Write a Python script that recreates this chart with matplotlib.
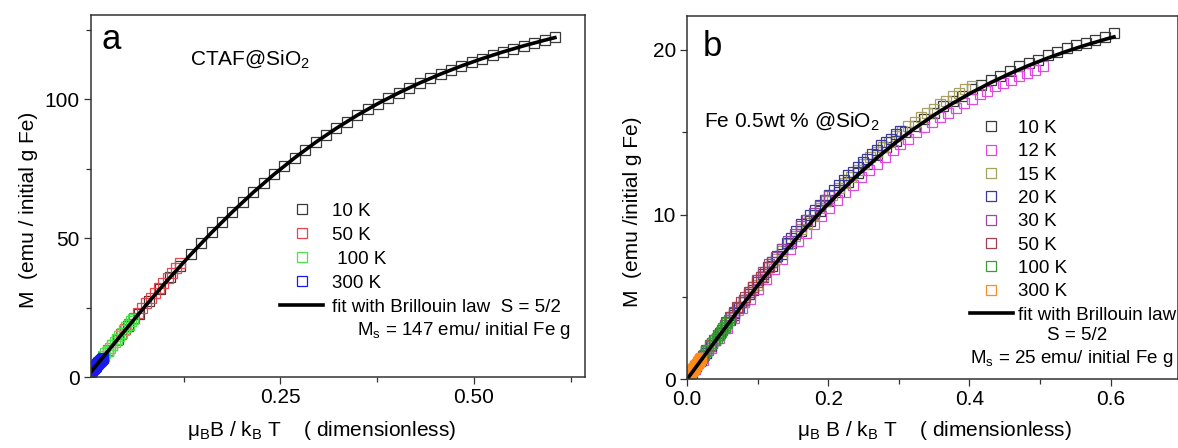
import matplotlib.pyplot as plt

plt.rcParams['font.family'] = ['Liberation Sans', 'DejaVu Sans']
plt.rcParams['mathtext.fontset'] = 'custom'
plt.rcParams['mathtext.rm'] = 'Liberation Sans'
plt.rcParams['mathtext.it'] = 'Liberation Sans:italic'

### DATA ###

# panel a : CTAF@SiO2
x10_a = [0, 0.0134, 0.0269, 0.0403, 0.0538, 0.0672, 0.0806, 0.0941, 0.1075, 0.121,
         0.1344, 0.1478, 0.1613, 0.1747, 0.1882, 0.2016, 0.215, 0.2285, 0.2419, 0.2554,
         0.2688, 0.2822, 0.2957, 0.3091, 0.3226, 0.336, 0.3494, 0.3629, 0.3763, 0.3898,
         0.4032, 0.4166, 0.4301, 0.4435, 0.457, 0.4704, 0.4838, 0.4973, 0.5107, 0.5242,
         0.5376, 0.551, 0.5645, 0.5779, 0.5914, 0.6048]
m10_a = [0.0, 4.6, 9.2, 13.8, 18.3, 22.8, 27.2, 31.6, 35.9, 40.1,
         44.2, 48.2, 52.1, 55.8, 59.5, 63.1, 66.5, 69.8, 73.0, 76.1,
         79.0, 81.8, 84.5, 87.1, 89.6, 92.0, 94.3, 96.5, 98.5, 100.5,
         102.4, 104.2, 105.9, 107.6, 109.1, 110.6, 112.0, 113.4, 114.7, 115.9,
         117.1, 118.2, 119.3, 120.3, 121.3, 122.3]
x50_a = [0.0055, 0.011, 0.0165, 0.022, 0.0275, 0.033, 0.0385, 0.044, 0.0495, 0.055, 0.0605,
         0.066, 0.0715, 0.077, 0.0825, 0.088, 0.0935, 0.099, 0.1045, 0.11, 0.1155, 0.121]
m50_a = [1.9, 3.9, 5.8, 7.7, 9.6, 11.6, 13.5, 15.4, 17.3, 19.2, 21.1,
         22.9, 24.8, 26.6, 28.5, 30.3, 32.1, 33.9, 35.7, 37.5, 39.2, 41.0]
x100_a = [0.003, 0.006, 0.009, 0.012, 0.015, 0.018, 0.021, 0.024, 0.027, 0.03,
          0.033, 0.036, 0.039, 0.042, 0.045, 0.048, 0.051, 0.054, 0.057, 0.06]
m100_a = [1.1, 2.1, 3.2, 4.2, 5.3, 6.3, 7.4, 8.5, 9.5, 10.6,
          11.6, 12.7, 13.7, 14.8, 15.8, 16.8, 17.9, 18.9, 20.0, 21.0]
x300_a = [0.0012, 0.0024, 0.0036, 0.0048, 0.006, 0.0072, 0.0084, 0.0096, 0.0108,
          0.012, 0.0132, 0.0144, 0.0156, 0.0168, 0.018, 0.0192, 0.0204]
m300_a = [0.41, 0.82, 1.23, 1.65, 2.06, 2.47, 2.88, 3.29, 3.7,
          4.12, 4.53, 4.94, 5.35, 5.76, 6.17, 6.59, 7.0]

# Brillouin fit S = 5/2 (Ms = 147 in a, Ms = 25 in b)
fit_x = [0, 0.0269, 0.0538, 0.0806, 0.1075, 0.1344, 0.1613, 0.1882, 0.215, 0.2419,
         0.2688, 0.2957, 0.3226, 0.3494, 0.3763, 0.4032, 0.4301, 0.457, 0.4838, 0.5107,
         0.5376, 0.5645, 0.5914, 0.6048]
fit_a = [0, 9.2, 18.31, 27.23, 35.87, 44.16, 52.06, 59.51, 66.49, 72.99,
         79.0, 84.54, 89.62, 94.28, 98.52, 102.39, 105.91, 109.12, 112.03, 114.68,
         117.1, 119.3, 121.31, 122.25]
fit_b = [0, 1.565, 3.114, 4.631, 6.1, 7.51, 8.854, 10.121, 11.308, 12.413,
         13.436, 14.378, 15.242, 16.034, 16.755, 17.413, 18.012, 18.558, 19.053, 19.504,
         19.915, 20.289, 20.631, 20.791]

# panel b : Fe 0.5wt % @SiO2
x10_b = x10_a
m10_b = [0.0, 0.8, 1.6, 2.4, 3.1, 3.9, 4.7, 5.4, 6.2, 6.9,
         7.6, 8.3, 9.0, 9.6, 10.2, 10.8, 11.4, 12.0, 12.5, 13.1,
         13.6, 14.1, 14.5, 15.0, 15.4, 15.8, 16.2, 16.6, 16.9, 17.2,
         17.6, 17.9, 18.2, 18.4, 18.7, 19.0, 19.2, 19.4, 19.7, 19.9,
         20.1, 20.3, 20.4, 20.6, 20.8, 21.0]
x12_b = [0, 0.0112, 0.0224, 0.0336, 0.0448, 0.056, 0.0672, 0.0784, 0.0896, 0.1008,
         0.112, 0.1232, 0.1344, 0.1456, 0.1568, 0.168, 0.1792, 0.1904, 0.2016, 0.2128,
         0.224, 0.2352, 0.2464, 0.2576, 0.2688, 0.28, 0.2912, 0.3024, 0.3136, 0.3248,
         0.336, 0.3472, 0.3584, 0.3696, 0.3808, 0.392, 0.4032, 0.4144, 0.4256, 0.4368,
         0.448, 0.4592, 0.4704, 0.4816, 0.4928, 0.504]
m12_b = [0.0, 0.6, 1.2, 1.9, 2.5, 3.1, 3.7, 4.3, 4.9, 5.5,
         6.1, 6.7, 7.3, 7.9, 8.4, 8.9, 9.4, 9.9, 10.4, 10.9,
         11.4, 11.8, 12.3, 12.7, 13.1, 13.5, 13.9, 14.3, 14.6, 15.0,
         15.3, 15.6, 15.9, 16.2, 16.5, 16.8, 17.0, 17.3, 17.5, 17.8,
         18.0, 18.2, 18.4, 18.6, 18.8, 19.0]
x15_b = [0, 0.009, 0.0179, 0.0269, 0.0358, 0.0448, 0.0538, 0.0627, 0.0717, 0.0806,
         0.0896, 0.0986, 0.1075, 0.1165, 0.1254, 0.1344, 0.1434, 0.1523, 0.1613, 0.1702,
         0.1792, 0.1882, 0.1971, 0.2061, 0.215, 0.224, 0.233, 0.2419, 0.2509, 0.2598,
         0.2688, 0.2778, 0.2867, 0.2957, 0.3046, 0.3136, 0.3226, 0.3315, 0.3405, 0.3494,
         0.3584, 0.3674, 0.3763, 0.3853, 0.3942, 0.4032]
m15_b = [0.0, 0.6, 1.1, 1.7, 2.2, 2.7, 3.2, 3.7, 4.2, 4.7,
         5.2, 5.7, 6.3, 6.8, 7.3, 7.8, 8.2, 8.7, 9.1, 9.5,
         10.0, 10.4, 10.8, 11.2, 11.6, 11.9, 12.3, 12.7, 13.1, 13.5,
         13.8, 14.1, 14.4, 14.8, 15.1, 15.4, 15.6, 15.9, 16.2, 16.4,
         16.7, 16.9, 17.2, 17.4, 17.6, 17.8]
x20_b = [0, 0.0067, 0.0134, 0.0202, 0.0269, 0.0336, 0.0403, 0.047, 0.0538, 0.0605,
         0.0672, 0.0739, 0.0806, 0.0874, 0.0941, 0.1008, 0.1075, 0.1142, 0.121, 0.1277,
         0.1344, 0.1411, 0.1478, 0.1546, 0.1613, 0.168, 0.1747, 0.1814, 0.1882, 0.1949,
         0.2016, 0.2083, 0.215, 0.2218, 0.2285, 0.2352, 0.2419, 0.2486, 0.2554, 0.2621,
         0.2688, 0.2755, 0.2822, 0.289, 0.2957, 0.3024]
m20_b = [0.0, 0.4, 0.8, 1.2, 1.6, 2.0, 2.4, 2.8, 3.2, 3.6,
         4.0, 4.4, 4.8, 5.2, 5.6, 6.0, 6.4, 6.8, 7.1, 7.5,
         7.9, 8.3, 8.6, 9.0, 9.4, 9.7, 10.0, 10.3, 10.6, 10.9,
         11.2, 11.5, 11.8, 12.1, 12.4, 12.6, 12.9, 13.2, 13.4, 13.7,
         13.9, 14.2, 14.4, 14.6, 14.9, 15.1]
x30_b = [0.009, 0.0179, 0.0269, 0.0358, 0.0448, 0.0538, 0.0627, 0.0717, 0.0806, 0.0896,
         0.0986, 0.1075, 0.1165, 0.1254, 0.1344, 0.1434, 0.1523, 0.1613, 0.1702, 0.1792,
         0.1882, 0.1971, 0.2016]
m30_b = [0.6, 1.1, 1.7, 2.2, 2.7, 3.3, 3.8, 4.3, 4.8, 5.3,
         6.0, 6.5, 7.0, 7.4, 7.9, 8.4, 8.8, 9.3, 9.7, 10.1,
         10.5, 10.9, 11.1]
x50_b = x50_a
m50_b = [0.5, 0.8, 1.1, 1.4, 1.8, 2.1, 2.4, 2.7, 3.0, 3.5, 3.8,
         4.1, 4.4, 4.7, 5.0, 5.3, 5.6, 5.9, 6.2, 6.5, 6.8, 7.1]
x100_b = x100_a
m100_b = [0.3, 0.5, 0.6, 0.8, 1.0, 1.1, 1.3, 1.5, 1.7, 1.8,
          2.0, 2.2, 2.4, 2.5, 2.7, 2.9, 3.1, 3.2, 3.4, 3.6]
x300_b = [0.001, 0.002, 0.003, 0.004, 0.005, 0.006, 0.007, 0.008, 0.009, 0.010,
          0.011, 0.012, 0.013, 0.014, 0.015, 0.016, 0.017, 0.018, 0.019, 0.020]
m300_b = [0.16, 0.22, 0.28, 0.33, 0.39, 0.45, 0.51, 0.57, 0.63, 0.68,
          0.74, 0.8, 0.86, 0.92, 0.98, 1.03, 1.09, 1.15, 1.21, 1.27]

### PLOT ###

fig = plt.figure(figsize=(11.78, 4.48), dpi=100)
axa = fig.add_axes([0.07725, 0.15848, 0.41935, 0.80804])
axb = fig.add_axes([0.58319, 0.15335, 0.41681, 0.81094])

def estilo(ax):
    for s in ax.spines.values():
        s.set_linewidth(1.1)
        s.set_color('#333333')
    ax.tick_params(which='both', direction='out', top=False, right=False,
                   width=0.9, color='#333333', labelsize=15, pad=3)
    ax.tick_params(which='major', length=5)
    ax.tick_params(which='minor', length=3.5)

def cuadros(ax, x, y, col, lab, ms):
    ax.plot(x, y, 's', mfc='none', mec=col, mew=0.9, ms=ms, label=lab)

# --- a ---
cuadros(axa, x10_a, m10_a, '#3a3a3a', '10 K', 7.2)
cuadros(axa, x50_a, m50_a, '#e8454f', '50 K', 7.2)
cuadros(axa, x100_a, m100_a, '#4ee04e', ' 100 K', 7.2)
cuadros(axa, x300_a, m300_a, '#1a1aee', '300 K', 7.2)
axa.plot(fit_x, fit_a, '-', color='k', lw=2.6, label='fit with Brillouin law  S = 5/2')

axa.set_xlim(0.0054, 0.6437)
axa.set_ylim(0, 130.4)
axa.set_xticks([0.25, 0.5])
axa.set_xticklabels(['0.25', '0.50'])
axa.set_xticks([0.125, 0.375, 0.625], minor=True)
axa.set_yticks([0, 50, 100])
axa.set_yticks([25, 75, 125], minor=True)
estilo(axa)
axa.set_xlabel('μ$_\\mathrm{B}$B / k$_\\mathrm{B}$ T    ( dimensionless)', fontsize=15)
axa.xaxis.set_label_coords(0.466, -0.116)
axa.set_ylabel('M  (emu / initial g Fe)', fontsize=15)
axa.yaxis.set_label_coords(-0.107, 0.461)

axa.legend(loc='upper left', bbox_to_anchor=(0.3826, 0.481), frameon=False,
           borderpad=0, borderaxespad=0, fontsize=13.5, numpoints=1,
           handlelength=2.3, handletextpad=0.46, labelspacing=0.36, markerscale=0.95)
axa.text(0.9717, 0.128, 'M$_\\mathrm{s}$ = 147 emu/ initial Fe g', transform=axa.transAxes,
         ha='right', va='center', fontsize=13.5)
axa.text(0.0213, 0.907, 'a', transform=axa.transAxes, fontsize=25, va='baseline')
axa.text(0.2, 0.863, 'CTAF@SiO$_\\mathrm{2}$', transform=axa.transAxes, fontsize=15, va='baseline')

# --- b ---
cuadros(axb, x10_b, m10_b, '#3a3a3a', '10 K', 7.6)
cuadros(axb, x12_b, m12_b, '#e04ae0', '12 K', 7.6)
cuadros(axb, x15_b, m15_b, '#a8a060', '15 K', 7.6)
cuadros(axb, x20_b, m20_b, '#3a3a9a', '20 K', 7.6)
cuadros(axb, x30_b, m30_b, '#9a4aa0', '30 K', 7.6)
cuadros(axb, x50_b, m50_b, '#a04050', '50 K', 7.6)
cuadros(axb, x100_b, m100_b, '#3a9a3a', '100 K', 7.6)
cuadros(axb, x300_b, m300_b, '#ff8c1a', '300 K', 7.6)
axb.plot(fit_x, fit_b, '-', color='k', lw=2.6, label='fit with Brillouin law')

axb.set_xlim(0, 0.6955)
axb.set_ylim(0, 22.06)
axb.set_xticks([0, 0.2, 0.4, 0.6])
axb.set_xticklabels(['0.0', '0.2', '0.4', '0.6'])
axb.set_xticks([0.1, 0.3, 0.5], minor=True)
axb.set_yticks([0, 10, 20])
axb.set_yticks([5, 15], minor=True)
estilo(axb)
axb.set_xlabel('μ$_\\mathrm{B}$ B / k$_\\mathrm{B}$ T    ( dimensionless)', fontsize=15)
axb.xaxis.set_label_coords(0.505, -0.109)
axb.set_ylabel('M  (emu /initial g Fe)', fontsize=15)
axb.yaxis.set_label_coords(-0.092, 0.461)

axb.legend(loc='upper left', bbox_to_anchor=(0.576, 0.714), frameon=False,
           borderpad=0, borderaxespad=0, fontsize=13.5, numpoints=1,
           handlelength=2.3, handletextpad=0.27, labelspacing=0.33, markerscale=0.9)
axb.text(0.794, 0.12, 'S = 5/2', transform=axb.transAxes, ha='center', va='center', fontsize=13.5)
axb.text(0.784, 0.056, 'M$_\\mathrm{s}$ = 25 emu/ initial Fe g', transform=axb.transAxes,
         ha='center', va='center', fontsize=13.5)
axb.text(0.032, 0.89, 'b', transform=axb.transAxes, fontsize=25, va='baseline')
axb.text(0.035, 0.694, 'Fe 0.5wt % @SiO$_\\mathrm{2}$', transform=axb.transAxes, fontsize=15, va='baseline')

fig.savefig('out.png', dpi=100)
